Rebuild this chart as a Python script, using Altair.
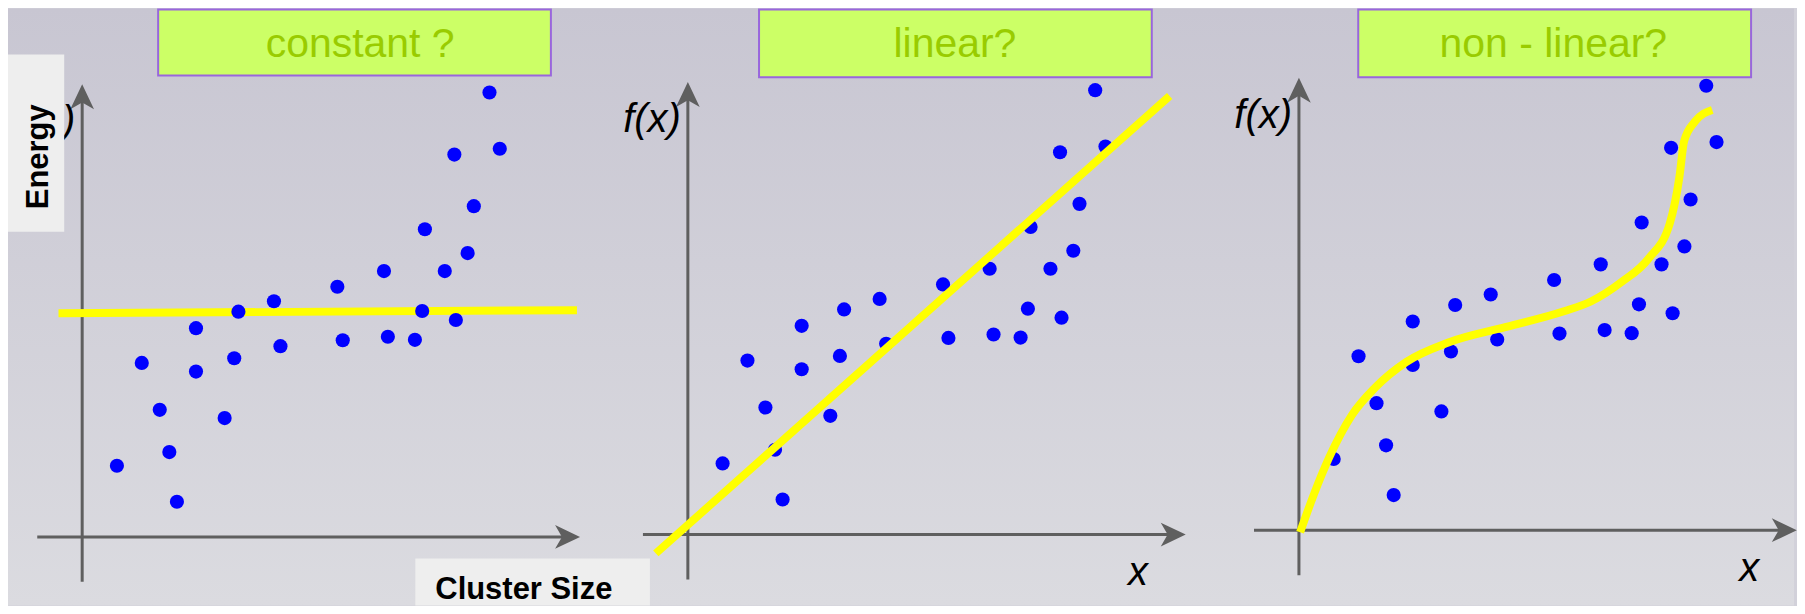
import altair as alt
import pandas as pd

# ---- data (units: offset from the drawn axes origin) ----
pt_x = [34.8, 59.7, 77.7, 87.3, 94.9, 114.0, 114.0, 142.7, 152.3, 156.5, 192.1, 198.6, 255.6,
        261.0, 302.3, 306.2, 333.3, 340.6, 343.3, 363.2, 372.8, 374.3, 386.1, 392.3, 408.0, 418.3]
pt_y = [71.3, 174.3, 127.3, 85.0, 35.2, 209.1, 165.6, 119.0, 179.0, 225.6, 236.1, 191.1, 250.6,
        197.0, 266.3, 200.5, 197.4, 226.3, 308.2, 266.3, 383.0, 217.3, 284.3, 331.3, 445.2, 388.8]

const_x = [-23.7, 495.6]
const_y = [224.0, 227.1]
lin_x = [-32.1, 482.6]
lin_y = [-18.8, 439.4]
nl_x = [1.2, 14.7, 30.1, 53.2, 76.4, 107.3, 149.7, 207.6, 265.4, 292.4, 323.3, 350.3, 371.5,
        381.2, 385.8, 396.6, 414.0]
nl_y = [-2.0, 35.2, 72.4, 115.5, 142.9, 168.4, 188.0, 203.6, 219.3, 229.1, 248.7, 272.2, 307.4,
        354.4, 389.6, 409.2, 421.0]

titles = ["constant ?", "linear?", "non - linear?"]
ylabel = "f(x)"
xlabel = "x"
energy_label = "Energy"
cluster_label = "Cluster Size"

FONT = "Liberation Sans"
H = 598
AX = "#5f5f5f"

points = pd.DataFrame({"x": pt_x, "y": pt_y})
fits = [pd.DataFrame({"x": const_x, "y": const_y}),
        pd.DataFrame({"x": lin_x, "y": lin_y}),
        pd.DataFrame({"x": nl_x, "y": nl_y})]

axis_lines = pd.DataFrame({"x": [-45.0, 0.0], "x2": [484.0, 0.0], "y": [0.0, -45.0], "y2": [0.0, 447.0]})
RIGHT = "M1,0L-1,-0.95L-0.45,0L-1,0.95Z"
UP = "M0,-1L0.95,1L0,0.45L-0.95,1Z"
heads = pd.DataFrame({"x": [486.2, 0.0], "y": [0.0, 440.8], "shape": [RIGHT, UP]})
one = pd.DataFrame({"k": [0]})

grad = alt.LinearGradient(gradient="linear",
                          stops=[alt.GradientStop(color="#c8c6d2", offset=0),
                                 alt.GradientStop(color="#dbdbe0", offset=1)],
                          x1=0, x2=0, y1=0, y2=1)


def panel(i, W, ox, oy, box, tcx, line_on_top):
    xs = alt.Scale(domain=[-ox, W - ox], nice=False, zero=False)
    ys = alt.Scale(domain=[-(H - oy), oy], nice=False, zero=False)
    X = lambda f: alt.X(f, type="quantitative", scale=xs, axis=None)
    Y = lambda f: alt.Y(f, type="quantitative", scale=ys, axis=None)
    layers = []
    if i == 0:
        layers.append(alt.Chart(one).mark_rect(fill=grad).encode(
            x=alt.value(0), x2=alt.value(1789), y=alt.value(0), y2=alt.value(H)))
    layers.append(alt.Chart(axis_lines).mark_rule(color=AX, strokeWidth=3).encode(
        x=X("x"), x2="x2", y=Y("y"), y2="y2"))
    layers.append(alt.Chart(heads).mark_point(filled=True, size=625, color=AX, opacity=1,
                                              strokeWidth=0).encode(
        x=X("x"), y=Y("y"), shape=alt.Shape("shape:N", scale=None)))
    line = alt.Chart(fits[i]).mark_line(color="#ffff00", strokeWidth=8, strokeCap="butt",
                                        interpolate="monotone" if i == 2 else "linear").encode(
        x=X("x"), y=Y("y"), order="x:Q")
    dots = alt.Chart(points).mark_circle(size=201, color="#0000ff", opacity=1).encode(
        x=X("x"), y=Y("y"))
    layers += [dots, line] if line_on_top else [line, dots]
    lab = pd.DataFrame({"x": [-7.0], "y": [403.3], "t": [ylabel]})
    layers.append(alt.Chart(lab).mark_text(font=FONT, fontSize=40, fontStyle="italic", color="#000",
                                           align="right", baseline="alphabetic").encode(
        x=X("x"), y=Y("y"), text="t:N"))
    if i > 0:
        labx = pd.DataFrame({"x": [451.0], "y": [-50.5], "t": [xlabel]})
        layers.append(alt.Chart(labx).mark_text(font=FONT, fontSize=40, fontStyle="italic",
                                                color="#000", align="center",
                                                baseline="alphabetic").encode(
            x=X("x"), y=Y("y"), text="t:N"))
    # title box
    layers.append(alt.Chart(one).mark_rect(fill="#ccff66", stroke="#9966dd", strokeWidth=2).encode(
        x=alt.value(box[0]), x2=alt.value(box[1]), y=alt.value(box[2]), y2=alt.value(box[3])))
    layers.append(alt.Chart(one).mark_text(text=titles[i], font=FONT, fontSize=41, color="#99cc00",
                                           align="center", baseline="alphabetic").encode(
        x=alt.value(tcx), y=alt.value(48.8)))
    if i == 0:
        layers.append(alt.Chart(one).mark_rect(fill="#eeeeee").encode(
            x=alt.value(0), x2=alt.value(56.3), y=alt.value(46), y2=alt.value(223.7)))
        layers.append(alt.Chart(one).mark_text(text=energy_label, font=FONT, fontSize=31,
                                               fontWeight="bold", color="#000", angle=270,
                                               align="center", baseline="alphabetic").encode(
            x=alt.value(40.3), y=alt.value(148.5)))
        layers.append(alt.Chart(one).mark_rect(fill="#eeeeee").encode(
            x=alt.value(408), x2=alt.value(643), y=alt.value(551), y2=alt.value(H)))
        layers.append(alt.Chart(one).mark_text(text=cluster_label, font=FONT, fontSize=31,
                                               fontWeight="bold", color="#000",
                                               align="left", baseline="alphabetic").encode(
            x=alt.value(428), y=alt.value(591.3)))
    return alt.layer(*layers).properties(width=W, height=H)


p1 = panel(0, 600, 74.3, 529.3, (150.4, 543.8, 1, 67.2), 352.7, False)
p2 = panel(1, 600, 81.0, 527.0, (152.3, 545.7, 1, 68.8), 348.5, True)
p3 = panel(2, 589, 93.1, 522.6, (152.5, 546.0, 1, 68.8), 347.9, True)

chart = alt.hconcat(p1, p2, p3, spacing=0, bounds="flush").properties(
    padding=0, background="#d2d1da"
).configure_view(stroke=None)

chart.save("out.html", embed_options={"renderer": "svg", "actions": False})
